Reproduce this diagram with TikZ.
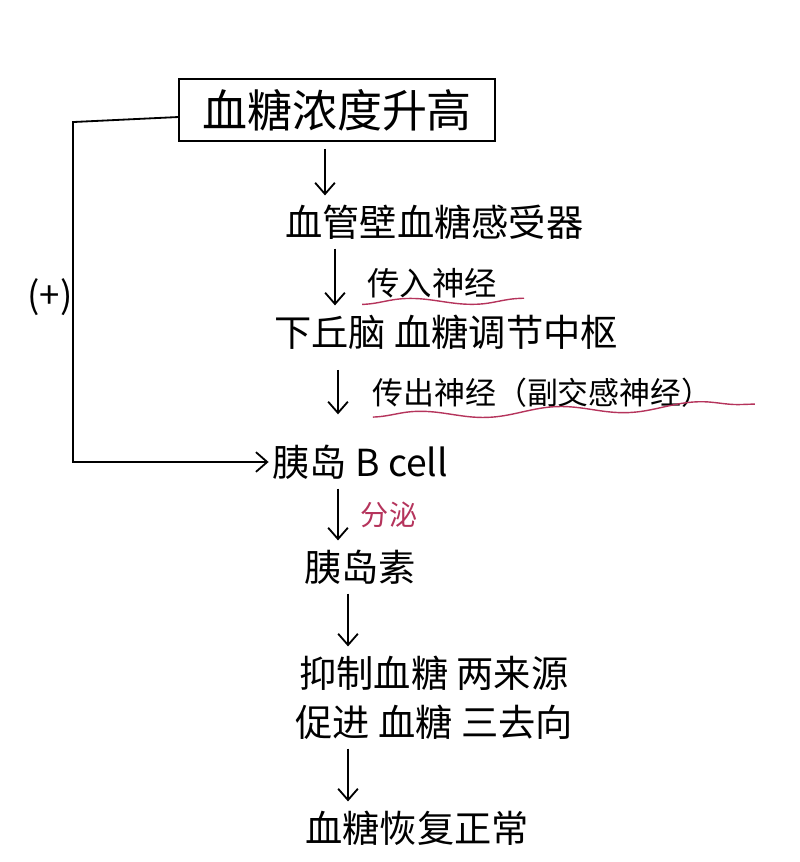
\documentclass[tikz,border=0pt]{standalone}
\usepackage{fontspec}
\setmainfont{Noto Sans CJK SC}
\usepackage{tikz}
\usetikzlibrary{arrows.meta,decorations.pathmorphing,calc}
\definecolor{penred}{HTML}{B5345C}

\begin{document}
\begin{tikzpicture}
  %[x=1px,y=-1px]
  [x=0.025cm,y=-0.025cm,line width=1.3pt,->,>={Straight Barb[length=8pt,width=14pt]},
   shorten >=5pt,shorten <=5pt,
   txt/.style={anchor=west,inner sep=1pt,font=\fontsize{26.5}{30}\selectfont},
   lbl/.style={anchor=west,inner sep=1pt,font=\fontsize{23}{27}\selectfont},
   wavy/.style={-,shorten >=0pt,shorten <=0pt,penred,line width=1pt,
     decorate,decoration={snake,amplitude=3pt,segment length=100pt}}]
  \useasboundingbox (0,0) rectangle (800,862);

  \node[draw,minimum width=7.9cm,minimum height=1.55cm,
        font=\fontsize{32}{36}\selectfont] (nh) at (337,110) {血糖浓度升高};
  \node[txt] (nr) at (283,222) {血管壁血糖感受器};
  \node[txt] (nz) at (272,332) {下丘脑 血糖调节中枢};
  \node[txt] (nb) at (270,462) {胰岛 B cell};
  \node[txt] (ni) at (302,567) {胰岛素};
  \node[txt] (ne) at (297,673) {抑制血糖 两来源};
  \node[txt] (nf) at (293,722) {促进 血糖 三去向};
  \node[txt] (nn) at (303,828) {血糖恢复正常};

  \node[lbl] (li) at (365,283) {传入神经};
  \node[lbl,font=\fontsize{22}{26}\selectfont] (lo) at (370,393) {传出神经（副交感神经）};
  \node[anchor=west,inner sep=0pt,penred,font=\fontsize{20}{22}\selectfont] (ls) at (360,515) {分泌};
  \node[font=\fontsize{26}{30}\selectfont] (np) at (50,297) {(+)};

  \coordinate (a1) at (325,0);
  \coordinate (a2) at (335,0);
  \coordinate (a3) at (338,0);
  \coordinate (a5) at (348,0);

  \path (nh.south -| a1) edge (nr.north -| a1);
  \path (nr.south -| a2) edge (nz.north -| a2);
  \path (nz.south -| a3) edge[shorten <=13pt,shorten >=20pt] (nb.north -| a3);
  \path (nb.south -| a3) edge (ni.north -| a3);
  \path (ni.south -| a5) edge (ne.north -| a5);
  \path (nf.south -| a5) edge (nn.north -| a5);

  \draw[shorten <=0pt,shorten >=1pt] ([yshift=-5pt]nh.west) -- ++(-105,5) |- (nb.west);

  \draw[wavy] ([xshift=-2pt,yshift=-3pt]li.south west) -- ($(li.south east)+(25,-2)$);
  \draw[wavy] ([xshift=2pt,yshift=-5pt]lo.south west) -- ($(lo.south east)+(40,-6)$);
\end{tikzpicture}
\end{document}
